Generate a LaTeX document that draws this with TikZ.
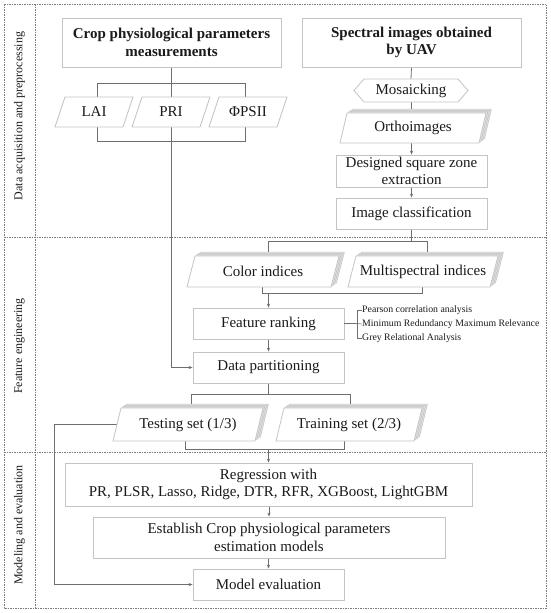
\documentclass[tikz,border=0pt]{standalone}
\usepackage{fontspec}
\setmainfont{Liberation Serif}
\usetikzlibrary{arrows.meta,backgrounds}
\definecolor{bx}{HTML}{C4C4C4}
\definecolor{ln}{HTML}{6E6E6E}
\definecolor{fr}{HTML}{7A7A7A}
\definecolor{tx}{HTML}{1A1A1A}
\tikzset{
 box/.style={draw=bx, line width=0.8pt, fill=white, text=tx, font=\fontsize{15}{17.5}\selectfont, align=center, inner sep=0pt},
 lbl/.style={text=tx, font=\fontsize{15}{17.5}\selectfont, align=center, inner sep=0pt},
 shp/.style={draw=bx, line width=0.8pt, fill=white},
 bck/.style={draw=bx, line width=0.6pt, fill=gray!22},
 conn/.style={draw=ln, line width=0.8pt},
 arr/.style={conn, -{Stealth[length=4pt,width=3.2pt]}},
 framel/.style={draw=fr, line width=0.7pt, dash pattern=on 1.5pt off 1pt},
 sec/.style={rotate=90, text=tx, font=\fontsize{12}{14}\selectfont, inner sep=0pt},
 small/.style={text=tx, font=\fontsize{9.8}{11}\selectfont, inner sep=0pt, anchor=west},
}
% parallelogram: name, cx, cy, w, h, slant, text
\newcommand\mypara[7]{%
 \path[shp] ({#2-#4/2},{#3+#5/2}) -- ({#2+#4/2-#6},{#3+#5/2}) -- ({#2+#4/2},{#3-#5/2}) -- ({#2-#4/2+#6},{#3-#5/2}) -- cycle;
 \node[lbl, minimum width=#4pt, minimum height=#5pt] (#1) at (#2,#3) {#7};}
\newcommand\mystack[7]{%
 \foreach \k in {3,2,1}{%
 \path[bck, shift={(1.8*\k,-1.3*\k)}] ({#2-#4/2},{#3+#5/2}) -- ({#2+#4/2-#6},{#3+#5/2}) -- ({#2+#4/2},{#3-#5/2}) -- ({#2-#4/2+#6},{#3-#5/2}) -- cycle;}
 \mypara{#1}{#2}{#3}{#4}{#5}{#6}{#7}}
\begin{document}
\begin{tikzpicture}[x=1pt,y=-1pt]
\useasboundingbox (0,0) rectangle (550,613);
% frame
\draw[framel] (4,4) rectangle (546,608);
\draw[framel] (35,4) -- (35,608);
\draw[framel] (4,237) -- (546,237);
\draw[framel] (4,452) -- (546,452);
\node[sec] (s1) at (19.5,116) {Data acquisition and preprocessing};
\node[sec] (s2) at (19.5,346) {Feature engineering};
\node[sec] (s3) at (19.5,525) {Modeling and evaluation};
% top boxes
\node[box, font=\bfseries\fontsize{15}{17.5}\selectfont, minimum width=219pt, minimum height=49pt] (crop) at (171.5,42.5) {Crop physiological parameters\\measurements};
\node[box, font=\bfseries\fontsize{15}{17.5}\selectfont, minimum width=219pt, minimum height=49pt] (spec) at (411.5,42.5) {Spectral images obtained\\by UAV};
% parameters
\mypara{lai}{94}{112}{78}{30}{10}{LAI}
\mypara{pri}{171}{112}{78}{30}{10}{PRI}
\mypara{psii}{248}{112}{78}{30}{10}{ΦPSII}
% mosaicking hexagon
\path[shp] (354,90.5) -- (364,79) -- (458,79) -- (468,90.5) -- (458,102) -- (364,102) -- cycle;
\node[lbl, minimum width=114pt, minimum height=23pt] (mos) at (411,90.5) {Mosaicking};
\mystack{ortho}{413}{128}{146}{30}{7}{Orthoimages}
\node[box, minimum width=151pt, minimum height=32pt] (dsz) at (411.5,171) {Designed square zone\\extraction};
\node[box, minimum width=151pt, minimum height=31pt] (ic) at (411.5,213.5) {Image classification};
\mystack{color}{263}{271.5}{152}{31}{8}{Color indices}
\mystack{multi}{423}{271.5}{150}{31}{8}{Multispectral indices}
\node[box, minimum width=151pt, minimum height=31pt] (fr) at (268.5,323.5) {Feature ranking};
\node[box, minimum width=151pt, minimum height=31pt] (dp) at (268.5,367.5) {Data partitioning};
\mystack{test}{188}{424.5}{150}{33}{8}{Testing set (1/3)}
\mystack{train}{349}{424.5}{146}{33}{8}{Training set (2/3)}
\node[box, minimum width=407pt, minimum height=43pt] (reg) at (268.5,484.5) {Regression with\\PR, PLSR, Lasso, Ridge, DTR, RFR, XGBoost, LightGBM};
\node[box, minimum width=352pt, minimum height=41pt] (est) at (269,537.5) {Establish Crop physiological parameters\\estimation models};
\node[box, minimum width=151pt, minimum height=31pt] (me) at (268.5,584.5) {Model evaluation};
% side annotation
\node[small] (t1) at (362,310) {Pearson correlation analysis};
\node[small] (t2) at (362,324) {Minimum Redundancy Maximum Relevance};
\node[small] (t3) at (362,338) {Grey Relational Analysis};
\coordinate (br) at (356,323.5);
\draw[conn, line width=0.6pt] (fr.east) -- (br);
\draw[conn, line width=0.6pt] (t1.west) -- ++(-5,0) |- (t3.west);
\draw[conn, line width=0.6pt] (br) -- (t2.west);
% connectors
\begin{scope}[on background layer]
\draw[conn] (crop.south) -- (171.5,83);
\draw[conn] (97,83) rectangle (245,141);
\draw[conn] (171.5,83) -- (171.5,141);
\draw[arr] (171.5,141) |- (dp.west);
\draw[conn] (spec.south) -- (mos.north);
\draw[arr] (mos.south) -- (ortho.north -| mos.south);
\draw[arr] (ortho.south -| dsz.north) -- (dsz.north);
\draw[arr] (dsz.south) -- (ic.south |- ic.north);
\draw[conn] (ic.south) -- (411.5,241);
\draw[arr] (268,241) -- (268,256);
\draw[arr] (427,241) -- (427,256);
\draw[conn] (268,241) -- (427,241);
\draw[conn] (262,287) -- (262,293) -- (422,293) -- (422,287);
\draw[arr] (268.5,293) -- (fr.north);
\draw[arr] (fr.south) -- (dp.north);
\draw[conn] (dp.south) -- (268.5,394);
\draw[conn] (191.7,394) -- (350,394);
\draw[arr] (191.7,394) -- (191.7,408);
\draw[arr] (350,394) -- (350,408);
\draw[conn] (185,441) -- (185,449) -- (344,449) -- (344,441);
\draw[arr] (268.5,449) -- (reg.north);
\draw[arr] (reg.south -| est.north) -- (est.north);
\draw[arr] (est.south -| me.north) -- (me.north);
\draw[arr] (test.west) ++(6,0) -- (54,424.5) |- (me.west);
\end{scope}
\end{tikzpicture}
\end{document}
